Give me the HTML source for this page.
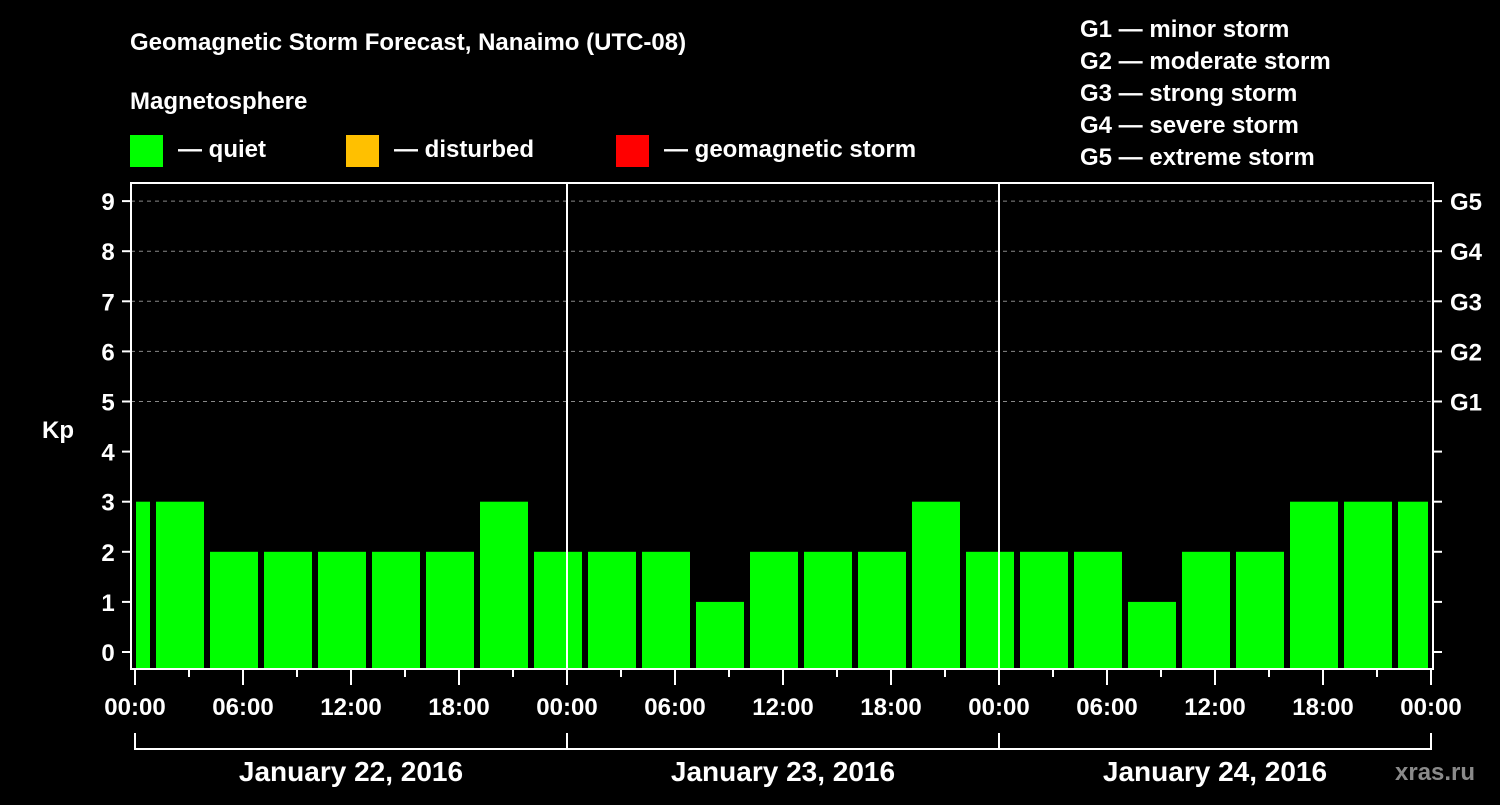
<!DOCTYPE html>
<html><head><meta charset="utf-8"><style>
body{margin:0;background:#000;width:1500px;height:800px;overflow:hidden}
svg text{font-family:"Liberation Sans",Arial,sans-serif;font-weight:bold;fill:#fff}
</style></head><body>
<svg id="chart" width="1500" height="800" xmlns="http://www.w3.org/2000/svg">
<text x="130" y="50" font-size="24">Geomagnetic Storm Forecast, Nanaimo (UTC-08)</text>
<text x="130" y="109" font-size="24">Magnetosphere</text>
<g>
<rect x="130" y="135" width="33" height="32" fill="#00ff00"/>
<text x="178" y="157" font-size="24">— quiet</text>
<rect x="346" y="135" width="33" height="32" fill="#ffc000"/>
<text x="394" y="157" font-size="24">— disturbed</text>
<rect x="616" y="135" width="33" height="32" fill="#ff0000"/>
<text x="664" y="157" font-size="24">— geomagnetic storm</text>
</g>
<g font-size="24">
<text x="1080" y="37">G1 — minor storm</text>
<text x="1080" y="69">G2 — moderate storm</text>
<text x="1080" y="101">G3 — strong storm</text>
<text x="1080" y="133">G4 — severe storm</text>
<text x="1080" y="165">G5 — extreme storm</text>
</g>
<text x="42" y="438" font-size="24">Kp</text>
<text x="1395" y="780" font-size="24" fill="#888" style="fill:#8a8a8a">xras.ru</text>
<g id="plot"></g>
</svg>
<script>
const dayLabels=["January 22, 2016","January 23, 2016","January 24, 2016"];
const startHours=[-2,1,4,7,10,13,16,19,22,25,28,31,34,37,40,43,46,49,52,55,58,61,64,67,70];
const kpValues=[3,3,2,2,2,2,2,3,2,2,2,1,2,2,2,3,2,2,2,1,2,2,3,3,3];
const yTicks=[0,1,2,3,4,5,6,7,8,9];
const gLabels=["G1","G2","G3","G4","G5"];
const xTickLabels=["00:00","06:00","12:00","18:00","00:00","06:00","12:00","18:00","00:00","06:00","12:00","18:00","00:00"];
const NS="http://www.w3.org/2000/svg";
const g=document.getElementById('plot');
const X0=135,PXH=18,TOTAL=72,L=131,R=1433,T=183,B=669;
const x=h=>X0+h*PXH;
const y=v=>652-v*50.1;
function mk(tag,attrs,txt){const e=document.createElementNS(NS,tag);for(const k in attrs)e.setAttribute(k,attrs[k]);if(txt!==undefined)e.textContent=txt;g.appendChild(e);return e;}
// grid lines
gLabels.forEach((lab,i)=>{const v=5+i;
const ln=mk('line',{x1:L,x2:R,y1:y(v),y2:y(v),stroke:'#888','stroke-dasharray':'4,4','stroke-width':1});


const t=mk('text',{x:1450,y:y(v)+9,'font-size':24},lab);


});
// bars
startHours.forEach((s,i)=>{
let a=x(s)+3,b=x(s+3)-3;a=Math.max(a,L+5);b=Math.min(b,x(TOTAL)-3);
const r=mk('rect',{x:a,y:y(kpValues[i]),width:b-a,height:B-1-y(kpValues[i]),fill:'#00ff00'});


});
// day separators
[24,48].forEach(h=>{const l=mk('line',{x1:x(h),x2:x(h),y1:T,y2:B,stroke:'#fff','stroke-width':2});

});
// frame
const fr=mk('rect',{x:L,y:T,width:R-L,height:B-T,fill:'none',stroke:'#fff','stroke-width':2});


// y ticks
yTicks.forEach(v=>{
const a=mk('line',{x1:122,x2:L,y1:y(v),y2:y(v),stroke:'#fff','stroke-width':2});


const b=mk('line',{x1:R,x2:1442,y1:y(v),y2:y(v),stroke:'#fff','stroke-width':2});


const t=mk('text',{x:108,y:y(v)+9,'font-size':24,'text-anchor':'middle'},v);


});
// x ticks
for(let h=0;h<=TOTAL;h+=3){const major=h%6===0;
const l=mk('line',{x1:x(h),x2:x(h),y1:B,y2:B+(major?16:8),stroke:'#fff','stroke-width':2});

}
xTickLabels.forEach((lab,i)=>{
const t=mk('text',{x:x(i*6),y:715,'font-size':24,'text-anchor':'middle'},lab);


});
// day bracket
const br=mk('path',{d:`M${x(0)},733V749H${x(72)}V733M${x(24)},733V749M${x(48)},733V749`,fill:'none',stroke:'#fff','stroke-width':2});


dayLabels.forEach((lab,i)=>{
const t=mk('text',{x:x(i*24+12),y:781,'font-size':28,'text-anchor':'middle'},lab);


});
</script>
</body></html>
